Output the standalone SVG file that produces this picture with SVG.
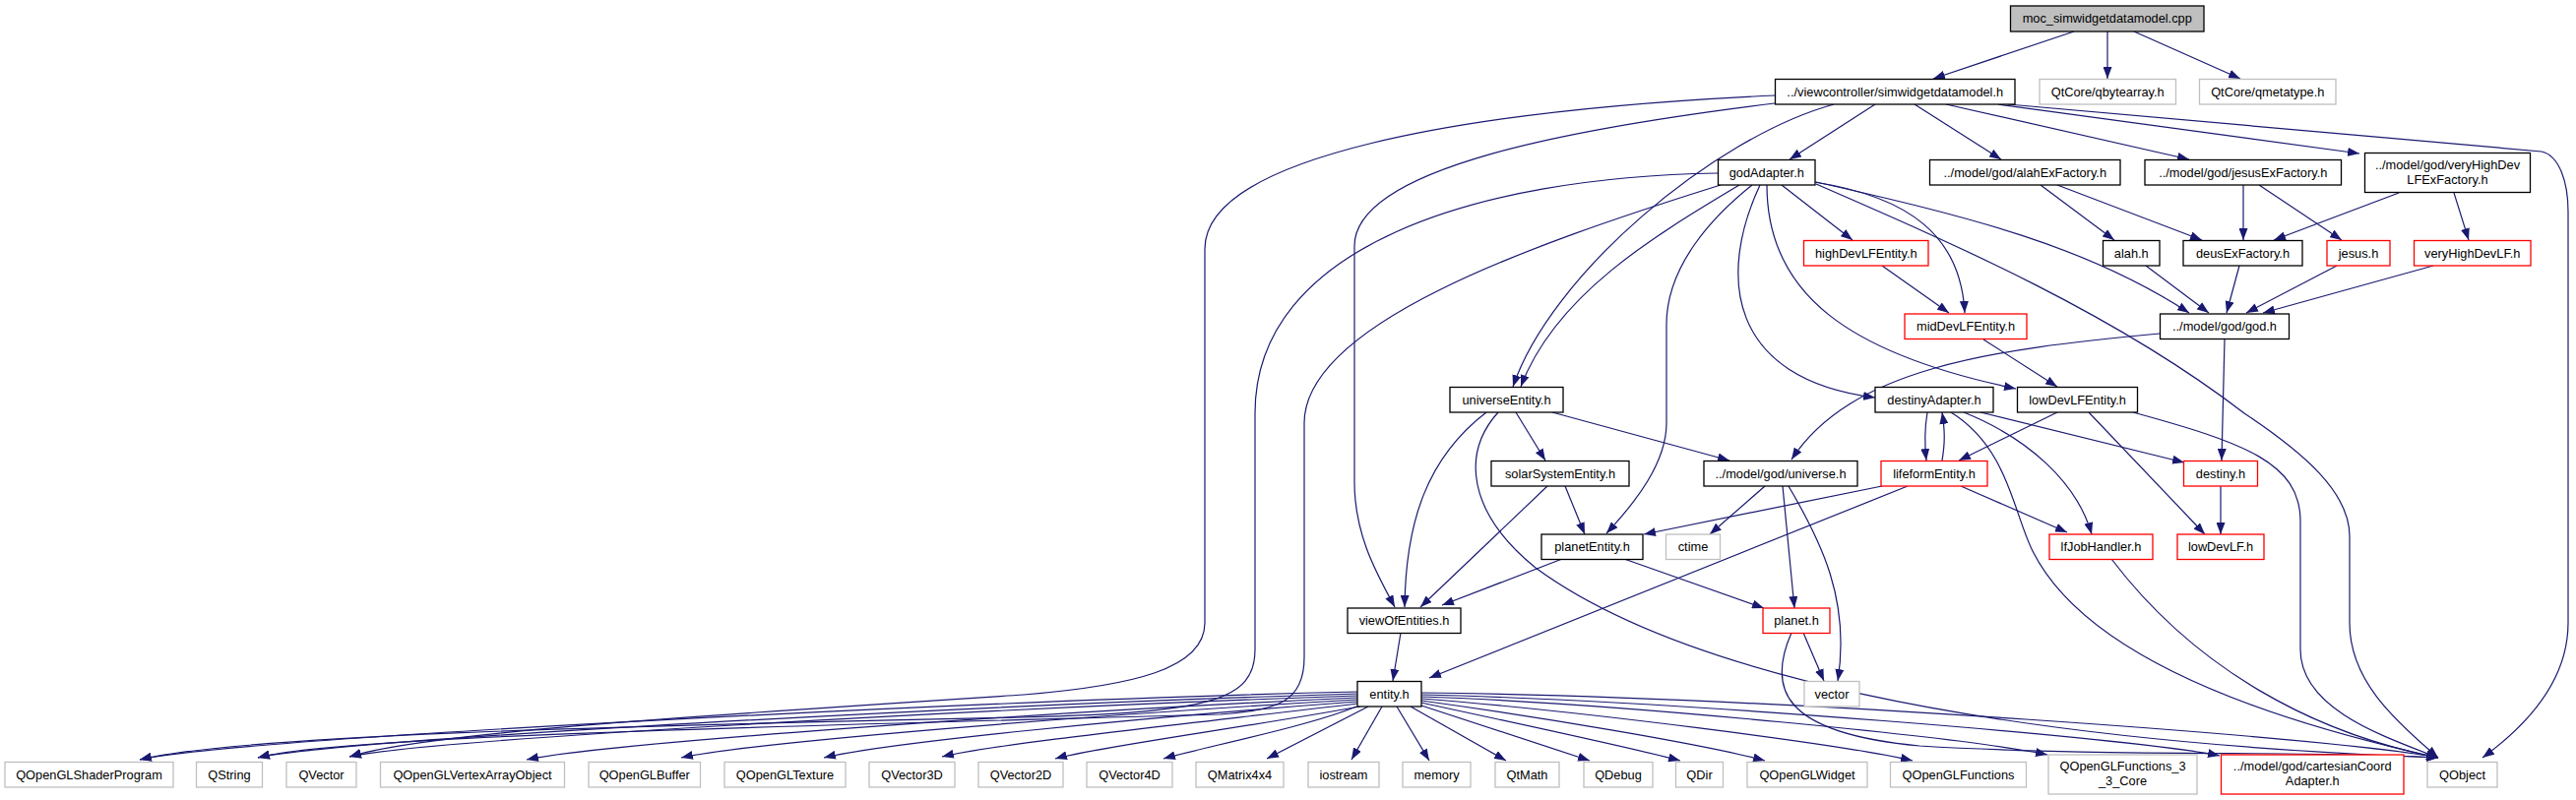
<svg xmlns="http://www.w3.org/2000/svg" width="2617" height="813" viewBox="0 0 2617 813">
<defs>
<marker id="ah" viewBox="0 0 12 9" refX="12" refY="4.5" markerWidth="12" markerHeight="9" markerUnits="userSpaceOnUse" orient="auto"><path d="M0,0 L12,4.5 L0,9 z" fill="#191970"/></marker>
<style>
rect{fill:#fff;stroke-width:1.3}
.k{stroke:#000}
.g{stroke:#bfbfbf}
.r{stroke:#ff0000}
text{font-family:"Liberation Sans",Arial,sans-serif;font-size:12.8px;fill:#000;text-anchor:middle}
#edges path{fill:none;stroke:#191970;stroke-width:1.2;marker-end:url(#ah)}
</style>
</defs>
<rect x="0" y="0" width="2617" height="813" style="fill:#fff;stroke:none"/>
<g id="edges">
<path d="M2107,32 L1964,80"/>
<path d="M2141,32 L2141,80"/>
<path d="M2168,32 L2276,80"/>
<path d="M1905,106 L1818,162"/>
<path d="M1945,106 L2033,162"/>
<path d="M1977,106 L2224,162"/>
<path d="M2030,106 L2397,156"/>
<path d="M2040,106 L2582,154 C2600,158 2609,185 2609,215 L2609,633 C2609,690 2570,735 2522,770"/>
<path d="M1863,106 C1740,140 1575,280 1537,393"/>
<path d="M1803,105 C1600,130 1376,170 1376,250 L1376,490 C1376,545 1400,585 1417,617"/>
<path d="M1803,97 C1480,112 1224,160 1224,253 L1224,633 C1224,680 1150,697 1040,706 C700,728 430,745 355,769"/>
<path d="M1745,176 C1500,180 1275,250 1275,420 L1275,660 C1275,712 1230,724 1040,729 C600,738 240,748 142,772"/>
<path d="M1748,188 C1550,250 1325,330 1325,430 L1325,668 C1325,712 1300,722 1240,726 C800,738 340,748 262,770"/>
<path d="M1767,188 C1680,240 1580,300 1545,393"/>
<path d="M1780,188 C1740,220 1693,270 1693,330 L1693,430 C1693,470 1662,510 1632,542"/>
<path d="M1788,188 C1745,280 1755,385 1905,404"/>
<path d="M1795,188 C1795,300 1880,360 2048,395"/>
<path d="M1810,188 L1882,244"/>
<path d="M1843,185 C1940,200 1992,240 1996,318"/>
<path d="M1845,185 C2000,220 2120,250 2224,318"/>
<path d="M1845,187 C1990,250 2150,320 2280,420 C2340,460 2387,500 2387,545 L2387,633 C2387,690 2430,730 2477,770"/>
<path d="M2073,188 L2148,244"/>
<path d="M2090,188 L2237,244"/>
<path d="M2279,188 L2279,244"/>
<path d="M2295,188 L2379,244"/>
<path d="M2437,196 L2310,244"/>
<path d="M2493,196 L2508,244"/>
<path d="M2180,270 L2244,318"/>
<path d="M2275,270 L2262,318"/>
<path d="M2374,270 L2282,318"/>
<path d="M2472,270 L2299,318"/>
<path d="M1912,270 L1980,318"/>
<path d="M2015,345 L2090,393"/>
<path d="M2260,345 L2257,468"/>
<path d="M2194,339 C2020,355 1880,375 1820,467"/>
<path d="M1540,419 L1570,468"/>
<path d="M1510,419 C1450,465 1428,530 1427,617"/>
<path d="M1577,419 L1757,468"/>
<path d="M1522,419 C1485,460 1490,520 1560,577 C1700,680 2000,752 2477,770"/>
<path d="M1590,494 L1610,543"/>
<path d="M1572,494 L1443,617"/>
<path d="M1587,568 L1465,615"/>
<path d="M1650,568 L1792,618"/>
<path d="M1912,494 L1670,543"/>
<path d="M1938,494 L1452,689"/>
<path d="M1992,494 L2100,541"/>
<path d="M1973,468 C1976,450 1976,438 1973,419"/>
<path d="M1958,419 C1955,437 1955,450 1957,468"/>
<path d="M2012,419 L2219,470"/>
<path d="M1995,419 C2060,445 2110,490 2125,543"/>
<path d="M1982,419 C2040,455 2045,520 2065,560 C2110,650 2250,720 2477,770"/>
<path d="M2090,419 L1990,468"/>
<path d="M2122,419 L2240,543"/>
<path d="M2167,419 C2280,450 2337,470 2337,530 L2337,660 C2337,720 2420,748 2477,770"/>
<path d="M2256,494 L2256,543"/>
<path d="M1793,494 L1737,543"/>
<path d="M1811,494 L1823,618"/>
<path d="M1817,494 C1850,550 1880,610 1867,692"/>
<path d="M1832,643 L1853,692"/>
<path d="M1820,643 C1795,700 1810,745 1950,758 C2150,770 2350,762 2477,770"/>
<path d="M2145,568 C2230,680 2350,745 2477,770"/>
<path d="M1423,643 L1415,692"/>
<path d="M1379,703 C1000,712 240,750 142,772"/>
<path d="M1379,705 C1000,716 340,752 262,770"/>
<path d="M1379,707 C1000,720 430,752 355,769"/>
<path d="M1379,709 C1050,724 610,756 535,772"/>
<path d="M1379,711 C1100,727 760,755 692,770"/>
<path d="M1379,713 C1150,730 900,755 837,770"/>
<path d="M1379,715 C1220,734 1010,756 957,769"/>
<path d="M1382,718 C1260,740 1110,760 1072,771"/>
<path d="M1378,718 C1330,738 1220,760 1182,771"/>
<path d="M1390,718 L1287,771"/>
<path d="M1404,718 L1373,772"/>
<path d="M1419,718 L1452,773"/>
<path d="M1433,718 L1530,773"/>
<path d="M1444,717 L1615,773"/>
<path d="M1444,714 C1530,733 1650,758 1707,773"/>
<path d="M1444,712 C1560,728 1730,756 1793,773"/>
<path d="M1444,710 C1600,722 1870,756 1943,773"/>
<path d="M1444,708 C1650,715 2000,750 2080,767"/>
<path d="M1444,706 C1700,712 2170,750 2255,768"/>
<path d="M1444,704 C1800,708 2380,750 2477,770"/>
</g>
<g id="n_moc"><rect class="k" x="2042.5" y="6" width="196.5" height="26" style="fill:#bfbfbf"/><text x="2140.75" y="23.4">moc_simwidgetdatamodel.cpp</text></g>
<g id="n_simw"><rect class="k" x="1803.5" y="80.5" width="243.5" height="25.5"/><text x="1925.25" y="97.8">../viewcontroller/simwidgetdatamodel.h</text></g>
<g id="n_qba"><rect class="g" x="2072" y="80.5" width="138.5" height="25.5"/><text x="2141.25" y="97.8">QtCore/qbytearray.h</text></g>
<g id="n_qmt"><rect class="g" x="2234.5" y="80.5" width="138.5" height="25.5"/><text x="2303.75" y="97.8">QtCore/qmetatype.h</text></g>
<g id="n_godAdapter"><rect class="k" x="1745.5" y="162.5" width="98.5" height="25.5"/><text x="1794.75" y="179.9">godAdapter.h</text></g>
<g id="n_alahEx"><rect class="k" x="1960.5" y="162.5" width="193.5" height="25.5"/><text x="2057.25" y="179.9">../model/god/alahExFactory.h</text></g>
<g id="n_jesusEx"><rect class="k" x="2179" y="162.5" width="199.5" height="25.5"/><text x="2278.75" y="179.9">../model/god/jesusExFactory.h</text></g>
<g id="n_vhEx"><rect class="k" x="2402.5" y="155.5" width="168" height="40"/><text x="2486.5" y="171.8">../model/god/veryHighDev</text><text x="2486.5" y="186.8">LFExFactory.h</text></g>
<g id="n_highDev"><rect class="r" x="1832.5" y="244.5" width="126.5" height="25.5"/><text x="1895.75" y="261.9">highDevLFEntity.h</text></g>
<g id="n_alah"><rect class="k" x="2136.5" y="244.5" width="57.5" height="25.5"/><text x="2165.25" y="261.9">alah.h</text></g>
<g id="n_deus"><rect class="k" x="2218" y="244.5" width="121" height="25.5"/><text x="2278.5" y="261.9">deusExFactory.h</text></g>
<g id="n_jesus"><rect class="r" x="2364" y="244.5" width="64" height="25.5"/><text x="2396" y="261.9">jesus.h</text></g>
<g id="n_vhLF"><rect class="r" x="2452.5" y="244.5" width="118.5" height="25.5"/><text x="2511.75" y="261.9">veryHighDevLF.h</text></g>
<g id="n_midDev"><rect class="r" x="1935" y="319" width="124" height="25.5"/><text x="1997" y="336.4">midDevLFEntity.h</text></g>
<g id="n_god"><rect class="k" x="2194.5" y="319" width="131" height="25.5"/><text x="2260" y="336.4">../model/god/god.h</text></g>
<g id="n_universeEntity"><rect class="k" x="1473" y="393.5" width="115" height="25.5"/><text x="1530.5" y="410.9">universeEntity.h</text></g>
<g id="n_destinyAdapter"><rect class="k" x="1905" y="393.5" width="120" height="25.5"/><text x="1965" y="410.9">destinyAdapter.h</text></g>
<g id="n_lowDevEntity"><rect class="k" x="2049.5" y="393.5" width="122" height="25.5"/><text x="2110.5" y="410.9">lowDevLFEntity.h</text></g>
<g id="n_solar"><rect class="k" x="1515" y="468.5" width="140" height="25.5"/><text x="1585" y="485.9">solarSystemEntity.h</text></g>
<g id="n_universe"><rect class="k" x="1731" y="468.5" width="156" height="25.5"/><text x="1809" y="485.9">../model/god/universe.h</text></g>
<g id="n_lifeform"><rect class="r" x="1911" y="468.5" width="108" height="25.5"/><text x="1965" y="485.9">lifeformEntity.h</text></g>
<g id="n_destiny"><rect class="r" x="2218.5" y="468.5" width="75" height="25.5"/><text x="2256" y="485.9">destiny.h</text></g>
<g id="n_planetEntity"><rect class="k" x="1566" y="543" width="103" height="25.5"/><text x="1617.5" y="560.4">planetEntity.h</text></g>
<g id="n_ctime"><rect class="g" x="1692.5" y="543" width="55" height="25.5"/><text x="1720" y="560.4">ctime</text></g>
<g id="n_lfJob"><rect class="r" x="2082" y="543" width="105" height="25.5"/><text x="2134.5" y="560.4">lfJobHandler.h</text></g>
<g id="n_lowDevLF"><rect class="r" x="2212" y="543" width="88" height="25.5"/><text x="2256" y="560.4">lowDevLF.h</text></g>
<g id="n_view"><rect class="k" x="1369" y="618" width="115" height="25.5"/><text x="1426.5" y="635.4">viewOfEntities.h</text></g>
<g id="n_planet"><rect class="r" x="1791" y="618" width="68" height="25.5"/><text x="1825" y="635.4">planet.h</text></g>
<g id="n_entity"><rect class="k" x="1379" y="692.5" width="65" height="25.5"/><text x="1411.5" y="709.9">entity.h</text></g>
<g id="n_vector"><rect class="g" x="1833" y="692.5" width="56" height="25.5"/><text x="1861" y="709.9">vector</text></g>
<g id="n_QOpenGLShaderProgram"><rect class="g" x="5" y="774.5" width="171" height="25.5"/><text x="90.5" y="791.9">QOpenGLShaderProgram</text></g>
<g id="n_QString"><rect class="g" x="199.5" y="774.5" width="67" height="25.5"/><text x="233" y="791.9">QString</text></g>
<g id="n_QVector"><rect class="g" x="291" y="774.5" width="71" height="25.5"/><text x="326.5" y="791.9">QVector</text></g>
<g id="n_QOpenGLVertexArrayObject"><rect class="g" x="386.5" y="774.5" width="187" height="25.5"/><text x="480" y="791.9">QOpenGLVertexArrayObject</text></g>
<g id="n_QOpenGLBuffer"><rect class="g" x="598" y="774.5" width="113.5" height="25.5"/><text x="654.75" y="791.9">QOpenGLBuffer</text></g>
<g id="n_QOpenGLTexture"><rect class="g" x="736" y="774.5" width="123" height="25.5"/><text x="797.5" y="791.9">QOpenGLTexture</text></g>
<g id="n_QVector3D"><rect class="g" x="883" y="774.5" width="87" height="25.5"/><text x="926.5" y="791.9">QVector3D</text></g>
<g id="n_QVector2D"><rect class="g" x="994" y="774.5" width="86" height="25.5"/><text x="1037" y="791.9">QVector2D</text></g>
<g id="n_QVector4D"><rect class="g" x="1104" y="774.5" width="87" height="25.5"/><text x="1147.5" y="791.9">QVector4D</text></g>
<g id="n_QMatrix4x4"><rect class="g" x="1215" y="774.5" width="89" height="25.5"/><text x="1259.5" y="791.9">QMatrix4x4</text></g>
<g id="n_iostream"><rect class="g" x="1329" y="774.5" width="72" height="25.5"/><text x="1365" y="791.9">iostream</text></g>
<g id="n_memory"><rect class="g" x="1425" y="774.5" width="69" height="25.5"/><text x="1459.5" y="791.9">memory</text></g>
<g id="n_QtMath"><rect class="g" x="1519" y="774.5" width="65" height="25.5"/><text x="1551.5" y="791.9">QtMath</text></g>
<g id="n_QDebug"><rect class="g" x="1609" y="774.5" width="70" height="25.5"/><text x="1644" y="791.9">QDebug</text></g>
<g id="n_QDir"><rect class="g" x="1702.5" y="774.5" width="48" height="25.5"/><text x="1726.5" y="791.9">QDir</text></g>
<g id="n_QOpenGLWidget"><rect class="g" x="1775" y="774.5" width="122" height="25.5"/><text x="1836" y="791.9">QOpenGLWidget</text></g>
<g id="n_QOpenGLFunctions"><rect class="g" x="1920.5" y="774.5" width="138" height="25.5"/><text x="1989.5" y="791.9">QOpenGLFunctions</text></g>
<g id="n_QOpenGLFunctions_3_3_Core"><rect class="g" x="2081" y="767" width="151" height="40"/><text x="2156.5" y="783.3">QOpenGLFunctions_3</text><text x="2156.5" y="798.3">_3_Core</text></g>
<g id="n_cartesian"><rect class="r" x="2256.5" y="767" width="185.5" height="40"/><text x="2349.25" y="783.3">../model/god/cartesianCoord</text><text x="2349.25" y="798.3">Adapter.h</text></g>
<g id="n_QObject"><rect class="g" x="2466" y="774.5" width="71" height="25.5"/><text x="2501.5" y="791.9">QObject</text></g>
</svg>
